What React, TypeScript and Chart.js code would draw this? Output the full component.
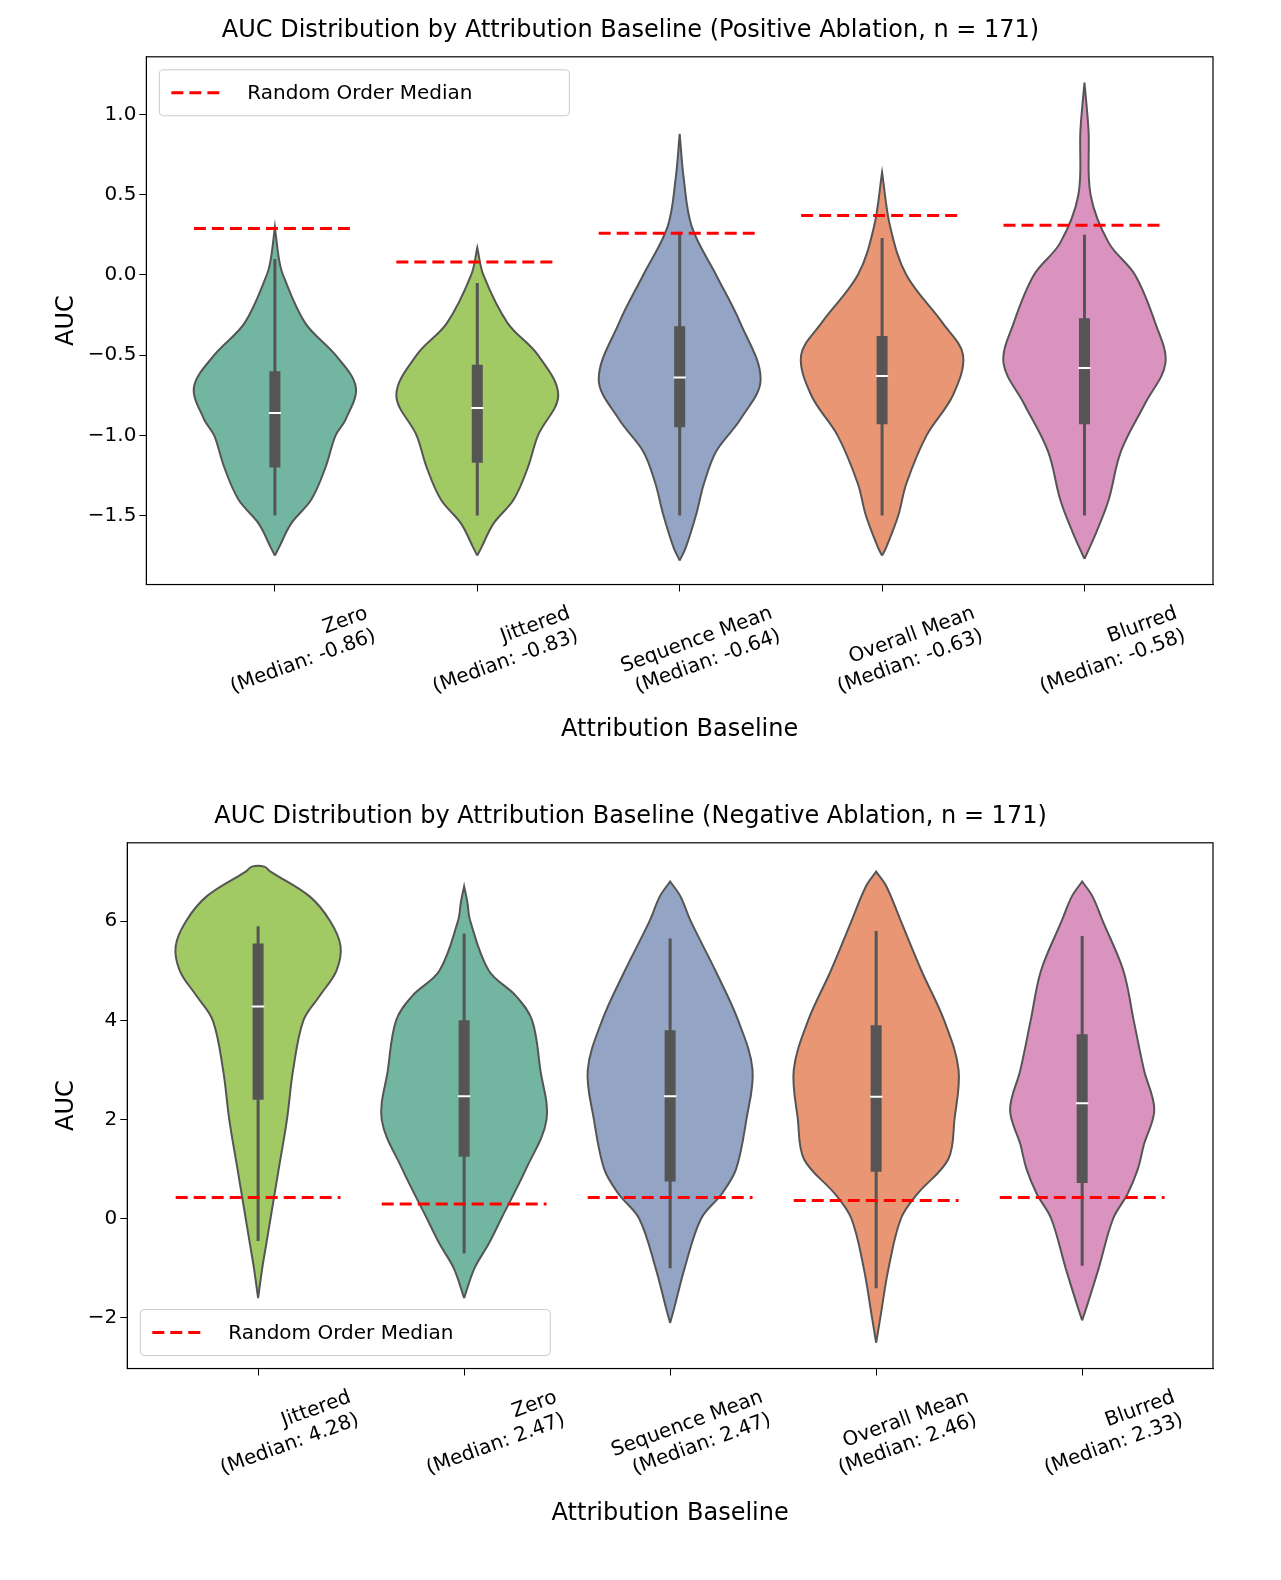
import React, { useEffect, useRef } from "react";
import { Chart, registerables } from "chart.js";
Chart.register(...registerables);

const FONT = "DejaVu Sans";
const COLORS: Record<string, string> = {
  "Zero": "#72b6a1", "Jittered": "#a1c964", "Sequence Mean": "#93a4c4",
  "Overall Mean": "#e99674", "Blurred": "#da93bf",
};

// Top panel (positive ablation)
const posCats = ["Zero", "Jittered", "Sequence Mean", "Overall Mean", "Blurred"];
const posMedians = [-0.86, -0.83, -0.64, -0.63, -0.58];
const posQ1 = [-1.2, -1.17, -0.95, -0.93, -0.93];
const posQ3 = [-0.6, -0.56, -0.32, -0.38, -0.27];
const posWLo = [-1.5, -1.5, -1.5, -1.5, -1.5];
const posWHi = [0.1, -0.05, 0.27, 0.23, 0.25];
const posRandom = [0.29, 0.08, 0.26, 0.37, 0.31];
const posDensY = [
  [-1.75, -1.7, -1.55, -1.4, -1.2, -1.0, -0.9, -0.7, -0.5, -0.3, 0.0, 0.1, 0.3],
  [-1.75, -1.7, -1.55, -1.4, -1.2, -1.0, -0.75, -0.5, -0.3, 0.0, 0.17],
  [-1.78, -1.7, -1.5, -1.3, -1.1, -0.9, -0.65, -0.3, 0.0, 0.3, 0.6, 0.88],
  [-1.75, -1.7, -1.5, -1.3, -1.0, -0.75, -0.5, -0.3, 0.0, 0.3, 0.64],
  [-1.77, -1.6, -1.4, -1.1, -0.8, -0.55, -0.3, 0.0, 0.2, 0.5, 0.9, 1.2],
];
const posDensW = [
  [0, 0.02, 0.08, 0.18, 0.25, 0.3, 0.35, 0.4, 0.3, 0.15, 0.04, 0.02, 0],
  [0, 0.02, 0.08, 0.18, 0.25, 0.3, 0.4, 0.3, 0.15, 0.03, 0],
  [0, 0.03, 0.08, 0.12, 0.18, 0.3, 0.4, 0.3, 0.18, 0.06, 0.02, 0],
  [0, 0.02, 0.08, 0.12, 0.22, 0.35, 0.4, 0.3, 0.12, 0.04, 0],
  [0, 0.06, 0.12, 0.18, 0.3, 0.4, 0.35, 0.25, 0.12, 0.03, 0.02, 0],
];

// Bottom panel (negative ablation)
const negCats = ["Jittered", "Zero", "Sequence Mean", "Overall Mean", "Blurred"];
const negMedians = [4.28, 2.47, 2.47, 2.46, 2.33];
const negQ1 = [2.4, 1.25, 0.75, 0.95, 0.72];
const negQ3 = [5.55, 4.0, 3.8, 3.9, 3.72];
const negWLo = [-0.45, -0.7, -1.0, -1.4, -0.95];
const negWHi = [5.9, 5.75, 5.65, 5.8, 5.7];
const negRandom = [0.43, 0.3, 0.43, 0.37, 0.43];
const negDensY = [
  [-1.6, -1.0, -0.5, 0, 1, 2, 3, 4, 4.5, 5, 5.5, 6, 6.5, 7.0, 7.1],
  [-1.6, -1, -0.5, 0, 1, 2, 3, 4, 4.5, 5, 6, 6.4, 6.7],
  [-2.1, -1.8, -1, 0, 0.5, 1, 2, 3, 4, 5, 6, 6.5, 6.8],
  [-2.5, -2, -1, 0, 0.5, 1.2, 2, 3, 4, 5, 6, 6.7, 7.0],
  [-2.05, -1.8, -1, 0, 0.5, 1, 1.5, 2.2, 3, 4, 5, 6, 6.5, 6.8],
];
const negDensW = [
  [0, 0.02, 0.04, 0.06, 0.1, 0.14, 0.17, 0.22, 0.3, 0.38, 0.4, 0.35, 0.25, 0.06, 0.03],
  [0, 0.05, 0.12, 0.18, 0.3, 0.4, 0.37, 0.33, 0.25, 0.12, 0.03, 0.015, 0],
  [0, 0.02, 0.07, 0.15, 0.25, 0.32, 0.37, 0.4, 0.33, 0.22, 0.1, 0.05, 0],
  [0, 0.02, 0.06, 0.12, 0.2, 0.35, 0.38, 0.4, 0.33, 0.22, 0.12, 0.05, 0],
  [0, 0.02, 0.08, 0.15, 0.22, 0.27, 0.3, 0.35, 0.3, 0.25, 0.2, 0.1, 0.05, 0],
];

type Panel = {
  title: string; cats: string[]; med: number[]; q1: number[]; q3: number[];
  lo: number[]; hi: number[]; rnd: number[]; dy: number[][]; dw: number[][];
  ymin: number; ymax: number; step: number; legendBottom: boolean; padTop: number; padBottom: number;
};

function buildDatasets(p: Panel) {
  const ds: any[] = [];
  p.cats.forEach((c, i) => {
    const right = p.dy[i].map((y, k) => ({ x: i + p.dw[i][k], y }));
    const left = p.dy[i].map((y, k) => ({ x: i - p.dw[i][k], y })).reverse();
    ds.push({
      type: "scatter", showLine: true, data: [...right, ...left, right[0]],
      borderColor: "#555555", borderWidth: 2, backgroundColor: COLORS[c],
      fill: "shape", tension: 0.35, pointRadius: 0, order: 5,
    });
    ds.push({ type: "scatter", showLine: true, data: [{ x: i, y: p.lo[i] }, { x: i, y: p.hi[i] }],
      borderColor: "#555555", borderWidth: 3, pointRadius: 0, order: 4 });
    ds.push({ type: "scatter", showLine: true, data: [{ x: i, y: p.q1[i] }, { x: i, y: p.q3[i] }],
      borderColor: "#555555", borderWidth: 11, borderCapStyle: "butt", pointRadius: 0, order: 3 });
    ds.push({ type: "scatter", showLine: true, data: [{ x: i - 0.03, y: p.med[i] }, { x: i + 0.03, y: p.med[i] }],
      borderColor: "#ffffff", borderWidth: 2, pointRadius: 0, order: 2 });
    ds.push({ type: "scatter", showLine: true, data: [{ x: i - 0.4, y: p.rnd[i] }, { x: i + 0.4, y: p.rnd[i] }],
      borderColor: "#ff0000", borderWidth: 3, borderDash: [12, 6], pointRadius: 0, order: 1 });
  });
  return ds;
}

const framePlugin = {
  id: "frame",
  afterDraw(chart: any, _a: any, opts: any) {
    const { ctx, chartArea: a } = chart;
    ctx.save();
    ctx.strokeStyle = "#000"; ctx.lineWidth = 1.2;
    ctx.strokeRect(a.left, a.top, a.right - a.left, a.bottom - a.top);
    const w = 410, h = 46;
    const x = a.left + 13;
    const y = opts.bottom ? a.bottom - 13 - h : a.top + 13;
    ctx.fillStyle = "rgba(255,255,255,0.85)";
    ctx.strokeStyle = "#cccccc"; ctx.lineWidth = 1;
    ctx.beginPath(); (ctx as any).roundRect(x, y, w, h, 4); ctx.fill(); ctx.stroke();
    ctx.strokeStyle = "#ff0000"; ctx.lineWidth = 3; ctx.setLineDash([12, 6]);
    ctx.beginPath(); ctx.moveTo(x + 12, y + h / 2); ctx.lineTo(x + 66, y + h / 2); ctx.stroke();
    ctx.setLineDash([]);
    ctx.fillStyle = "#000"; ctx.font = `20px '${FONT}'`; ctx.textBaseline = "middle";
    ctx.fillText("Random Order Median", x + 88, y + h / 2 + 1);
    ctx.restore();
  },
};

function ViolinChart({ p }: { p: Panel }) {
  const ref = useRef<HTMLCanvasElement>(null);
  useEffect(() => {
    const chart = new Chart(ref.current!, {
      type: "scatter",
      data: { datasets: buildDatasets(p) },
      plugins: [framePlugin],
      options: {
        animation: false, responsive: true, maintainAspectRatio: false,
        layout: { padding: { left: 40, right: 60, top: p.padTop, bottom: p.padBottom } },
        plugins: {
          legend: { display: false }, tooltip: { enabled: false },
          title: { display: true, text: p.title, color: "#000", font: { family: FONT, size: 24, weight: "normal" }, padding: { top: 8, bottom: 12 } },
          frame: { bottom: p.legendBottom },
        } as any,
        scales: {
          x: {
            type: "linear", min: -0.635, max: 4.635,
            afterBuildTicks: (s: any) => { s.ticks = [0, 1, 2, 3, 4].map((v) => ({ value: v })); },
            grid: { drawOnChartArea: false, drawTicks: true, tickLength: 7, color: "#000" },
            border: { color: "#000" },
            ticks: {
              minRotation: 20, maxRotation: 20, color: "#000", font: { family: FONT, size: 20 }, padding: 10,
              labelOffset: 92,
              callback: (v: any) => { const i = Math.round(v); return [p.cats[i], `(Median: ${p.med[i].toFixed(2)})`]; },
            },
            title: { display: true, text: "Attribution Baseline", color: "#000", font: { family: FONT, size: 24 } },
          },
          y: {
            min: p.ymin, max: p.ymax,
            afterBuildTicks: (s: any) => {
              const t = [];
              for (let v = Math.ceil(p.ymin / p.step) * p.step; v <= p.ymax + 1e-9; v += p.step) t.push({ value: +v.toFixed(2) });
              s.ticks = t;
            },
            grid: { drawOnChartArea: false, drawTicks: true, tickLength: 7, color: "#000" },
            border: { color: "#000" },
            ticks: {
              color: "#000", font: { family: FONT, size: 20 },
              callback: (v: any) => { const s = p.step < 1 ? Number(v).toFixed(1) : String(Math.round(v)); return s.replace("-", "\u2212"); },
            },
            title: { display: true, text: "AUC", color: "#000", font: { family: FONT, size: 24 } },
          },
        },
      } as any,
    });
    return () => chart.destroy();
  }, []);
  return <div style={{ width: 1265, height: 780, position: "relative" }}><canvas ref={ref} /></div>;
}

const top: Panel = {
  title: "AUC Distribution by Attribution Baseline (Positive Ablation, n = 171)",
  cats: posCats, med: posMedians, q1: posQ1, q3: posQ3, lo: posWLo, hi: posWHi, rnd: posRandom,
  dy: posDensY, dw: posDensW, ymin: -1.93, ymax: 1.36, step: 0.5, legendBottom: false, padTop: 0, padBottom: 40,
};
const bottom: Panel = {
  title: "AUC Distribution by Attribution Baseline (Negative Ablation, n = 171)",
  cats: negCats, med: negMedians, q1: negQ1, q3: negQ3, lo: negWLo, hi: negWHi, rnd: negRandom,
  dy: negDensY, dw: negDensW, ymin: -3.02, ymax: 7.58, step: 2, legendBottom: true, padTop: 6, padBottom: 36,
};

export default function App() {
  return (
    <div style={{ width: 1265, background: "#fff" }}>
      <ViolinChart p={top} />
      <ViolinChart p={bottom} />
    </div>
  );
}
